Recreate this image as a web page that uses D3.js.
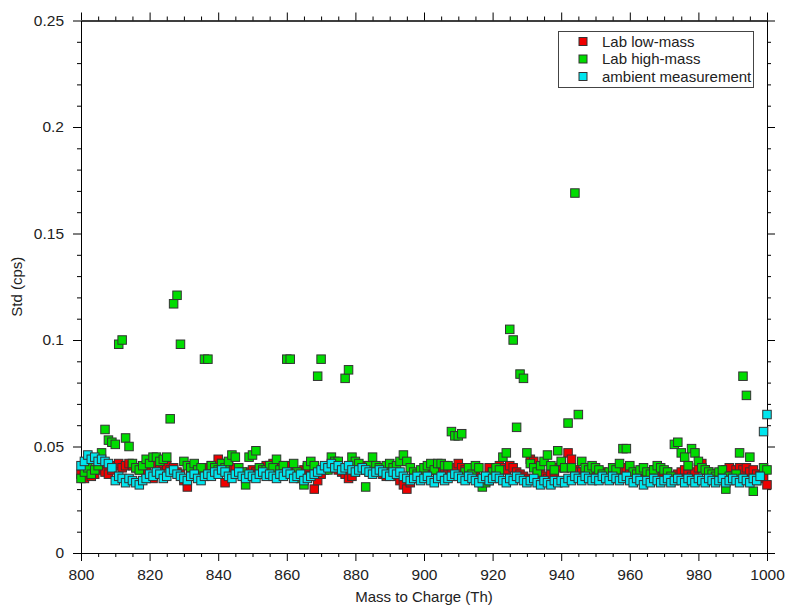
<!DOCTYPE html>
<html>
<head>
<meta charset="utf-8">
<script src="https://cdn.jsdelivr.net/npm/d3@7"></script>
<style>
  html, body { margin: 0; padding: 0; background: #fff; }
  svg { display: block; font-family: "Liberation Sans", Arial, Helvetica, sans-serif; }
</style>
</head>
<body>
<svg id="chart" width="789" height="606"></svg>
<script>
// Mass-to-charge channels, one per integer Th from 800 to 1000
const massToCharge = d3.range(800, 1001);

// Standard deviation (cps) per channel, lab low-mass calibration
const labLowMass = [
  0.037, 0.035, 0.038, 0.036, 0.037, 0.039, 0.040, 0.038, 0.037, 0.039,
  0.041, 0.042, 0.040, 0.041, 0.042, 0.041, 0.040, 0.039, 0.040, 0.038,
  0.036, 0.035, 0.041, 0.040, 0.042, 0.041, 0.039, 0.040, 0.038, 0.037,
  0.034, 0.031, 0.036, 0.038, 0.037, 0.039, 0.038, 0.040, 0.041, 0.039,
  0.044, 0.042, 0.033, 0.041, 0.039, 0.040, 0.038, 0.037, 0.036, 0.038,
  0.039, 0.038, 0.037, 0.039, 0.041, 0.041, 0.042, 0.040, 0.041, 0.039,
  0.040, 0.041, 0.039, 0.038, 0.037, 0.039, 0.040, 0.036, 0.030, 0.034,
  0.037, 0.039, 0.040, 0.041, 0.040, 0.039, 0.038, 0.037, 0.035, 0.036,
  0.038, 0.040, 0.041, 0.039, 0.038, 0.040, 0.039, 0.038, 0.037, 0.036,
  0.038, 0.037, 0.036, 0.034, 0.032, 0.030, 0.033, 0.035, 0.036, 0.037,
  0.038, 0.037, 0.039, 0.040, 0.038, 0.039, 0.040, 0.039, 0.038, 0.040,
  0.042, 0.040, 0.039, 0.037, 0.038, 0.036, 0.035, 0.033, 0.034, 0.040,
  0.038, 0.039, 0.041, 0.040, 0.039, 0.041, 0.040, 0.038, 0.037, 0.036,
  0.035, 0.044, 0.043, 0.039, 0.037, 0.036, 0.035, 0.037, 0.038, 0.040,
  0.041, 0.040, 0.047, 0.044, 0.039, 0.038, 0.038, 0.037, 0.036, 0.035,
  0.036, 0.037, 0.038, 0.037, 0.036, 0.035, 0.037, 0.038, 0.039, 0.040,
  0.039, 0.038, 0.037, 0.036, 0.035, 0.037, 0.038, 0.039, 0.037, 0.036,
  0.037, 0.038, 0.036, 0.035, 0.037, 0.038, 0.039, 0.037, 0.036, 0.038,
  0.040, 0.042, 0.039, 0.038, 0.037, 0.036, 0.037, 0.038, 0.039, 0.040,
  0.036, 0.039, 0.040, 0.039, 0.040, 0.038, 0.039, 0.037, 0.036, 0.035,
  0.032
];

// Standard deviation (cps) per channel, lab high-mass calibration
const labHighMass = [
  0.035, 0.038, 0.040, 0.037, 0.039, 0.041, 0.047, 0.058, 0.053, 0.052,
  0.051, 0.098, 0.100, 0.054, 0.050, 0.042, 0.040, 0.039, 0.041, 0.044,
  0.042, 0.045, 0.045, 0.043, 0.044, 0.045, 0.063, 0.117, 0.121, 0.098,
  0.043, 0.041, 0.040, 0.042, 0.039, 0.040, 0.091, 0.091, 0.041, 0.040,
  0.039, 0.042, 0.040, 0.043, 0.046, 0.045, 0.040, 0.038, 0.032, 0.045,
  0.046, 0.048, 0.040, 0.039, 0.039, 0.041, 0.040, 0.044, 0.039, 0.041,
  0.091, 0.091, 0.042, 0.038, 0.035, 0.032, 0.041, 0.043, 0.041, 0.083,
  0.091, 0.040, 0.039, 0.045, 0.043, 0.043, 0.040, 0.082, 0.086, 0.045,
  0.043, 0.042, 0.040, 0.031, 0.041, 0.045, 0.041, 0.040, 0.039, 0.041,
  0.042, 0.040, 0.041, 0.043, 0.046, 0.043, 0.040, 0.038, 0.037, 0.039,
  0.040, 0.041, 0.042, 0.039, 0.042, 0.042, 0.041, 0.041, 0.057, 0.055,
  0.055, 0.056, 0.038, 0.040, 0.037, 0.041, 0.040, 0.031, 0.033, 0.034,
  0.038, 0.040, 0.039, 0.045, 0.047, 0.105, 0.100, 0.059, 0.084, 0.082,
  0.047, 0.042, 0.040, 0.038, 0.041, 0.043, 0.046, 0.041, 0.039, 0.048,
  0.043, 0.040, 0.061, 0.040, 0.169, 0.065, 0.043, 0.040, 0.039, 0.041,
  0.040, 0.039, 0.037, 0.036, 0.038, 0.040, 0.039, 0.042, 0.049, 0.049,
  0.041, 0.038, 0.037, 0.039, 0.040, 0.038, 0.037, 0.039, 0.041, 0.040,
  0.039, 0.038, 0.036, 0.051, 0.052, 0.047, 0.045, 0.041, 0.049, 0.047,
  0.043, 0.040, 0.039, 0.038, 0.037, 0.036, 0.038, 0.039, 0.030, 0.036,
  0.035, 0.037, 0.047, 0.083, 0.074, 0.045, 0.029, 0.034, 0.036, 0.040,
  0.039
];

// Standard deviation (cps) per channel, ambient measurement
const ambientMeasurement = [
  0.041, 0.043, 0.046, 0.044, 0.045, 0.043, 0.044, 0.043, 0.042, 0.040,
  0.034, 0.036, 0.035, 0.033, 0.035, 0.034, 0.033, 0.032, 0.034, 0.035,
  0.037, 0.036, 0.038, 0.037, 0.035, 0.036, 0.038, 0.039, 0.037, 0.036,
  0.035, 0.034, 0.036, 0.037, 0.035, 0.034, 0.036, 0.037, 0.036, 0.038,
  0.037, 0.039, 0.038, 0.036, 0.035, 0.037, 0.038, 0.036, 0.035, 0.037,
  0.036, 0.035, 0.037, 0.038, 0.036, 0.037, 0.036, 0.035, 0.037, 0.036,
  0.038, 0.037, 0.035, 0.036, 0.037, 0.034, 0.035, 0.036, 0.037, 0.038,
  0.039, 0.041, 0.040, 0.042, 0.040, 0.041, 0.039, 0.040, 0.041, 0.039,
  0.038, 0.039, 0.040, 0.039, 0.038, 0.037, 0.038, 0.039, 0.038, 0.037,
  0.036, 0.038, 0.037, 0.038, 0.036, 0.035, 0.034, 0.035, 0.036, 0.034,
  0.035, 0.036, 0.034, 0.033, 0.035, 0.036, 0.034, 0.035, 0.036, 0.037,
  0.036, 0.035, 0.034, 0.036, 0.035, 0.034, 0.033, 0.035, 0.036, 0.034,
  0.035, 0.036, 0.035, 0.034, 0.033, 0.035, 0.034, 0.036, 0.035, 0.034,
  0.033, 0.034, 0.035, 0.033, 0.032, 0.034, 0.033, 0.032, 0.034, 0.033,
  0.034, 0.033, 0.035, 0.034, 0.036, 0.035, 0.034, 0.036, 0.035, 0.034,
  0.035, 0.034, 0.036, 0.035, 0.034, 0.036, 0.035, 0.034, 0.035, 0.036,
  0.034, 0.033, 0.035, 0.034, 0.032, 0.034, 0.033, 0.035, 0.034, 0.033,
  0.034, 0.035, 0.033, 0.034, 0.035, 0.034, 0.033, 0.035, 0.034, 0.033,
  0.035, 0.034, 0.033, 0.035, 0.034, 0.033, 0.034, 0.035, 0.033, 0.034,
  0.035, 0.034, 0.033, 0.035, 0.034, 0.033, 0.035, 0.034, 0.036, 0.057,
  0.065
];

const seriesNames = ["Lab low-mass", "Lab high-mass", "ambient measurement"];
const seriesValues = [labLowMass, labHighMass, ambientMeasurement];
const seriesColors = ["#f00000", "#00dc00", "#00e5ee"];

const xMajorTicks = [800, 820, 840, 860, 880, 900, 920, 940, 960, 980, 1000];
const yMajorTicks = [0, 0.05, 0.1, 0.15, 0.2, 0.25];
const yTickLabels = ["0", "0.05", "0.1", "0.15", "0.2", "0.25"];

const svg = d3.select("#chart");
const plotLeft = 81, plotRight = 767, plotTop = 20.5, plotBottom = 553;

const x = d3.scaleLinear().domain([800, 1000]).range([plotLeft, plotRight]);
const y = d3.scaleLinear().domain([0, 0.25]).range([plotBottom, plotTop]);

const xMinor = d3.range(800, 1001, 5).filter(v => v % 20 !== 0);
const yMinor = d3.range(0, 0.2501, 0.01).map(v => +v.toFixed(2))
  .filter(v => Math.round(v * 100) % 5 !== 0);

// Frame: all four sides, ticks pointing outward
function styleAxis(g) {
  g.select(".domain").attr("stroke", "#000").attr("stroke-width", 1);
  g.selectAll(".tick line").attr("stroke", "#000").attr("stroke-width", 1);
  g.selectAll(".tick text").attr("fill", "#222").style("font-size", "15.5px");
}

const axes = [
  { gen: d3.axisBottom, scale: x, tr: `translate(0,${plotBottom})`, major: xMajorTicks, minor: xMinor, labels: true, pad: 8, fmt: d => d },
  { gen: d3.axisTop, scale: x, tr: `translate(0,${plotTop})`, major: xMajorTicks, minor: xMinor, labels: false, pad: 3 },
  { gen: d3.axisLeft, scale: y, tr: `translate(${plotLeft},0)`, major: yMajorTicks, minor: yMinor, labels: true, pad: 9, fmt: (d, i) => yTickLabels[i] },
  { gen: d3.axisRight, scale: y, tr: `translate(${plotRight},0)`, major: yMajorTicks, minor: yMinor, labels: false, pad: 3 }
];

axes.forEach(a => {
  svg.append("g").attr("transform", a.tr)
    .call(a.gen(a.scale).tickValues(a.minor).tickSize(4).tickSizeOuter(0).tickFormat(""))
    .call(styleAxis);
  svg.append("g").attr("transform", a.tr)
    .call(a.gen(a.scale).tickValues(a.major).tickSize(8).tickSizeOuter(0).tickPadding(a.pad)
      .tickFormat(a.labels ? a.fmt : ""))
    .call(styleAxis);
});

// Scatter markers, one series drawn over the next
const marker = 8.5;
seriesValues.forEach((vals, si) => {
  svg.append("g")
    .selectAll("rect")
    .data(massToCharge.map((m, i) => ({ m, v: vals[i] })))
    .join("rect")
    .attr("x", d => x(d.m) - marker / 2)
    .attr("y", d => y(d.v) - marker / 2)
    .attr("width", marker)
    .attr("height", marker)
    .attr("fill", seriesColors[si])
    .attr("stroke", "#333")
    .attr("stroke-width", 1);
});

// Axis titles
svg.append("text")
  .attr("x", (plotLeft + plotRight) / 2).attr("y", 602)
  .attr("text-anchor", "middle")
  .style("font-size", "15px").attr("fill", "#222")
  .text("Mass to Charge (Th)");

svg.append("text")
  .attr("transform", `translate(22,${(plotTop + plotBottom) / 2}) rotate(-90)`)
  .attr("text-anchor", "middle")
  .style("font-size", "15px").attr("fill", "#222")
  .text("Std (cps)");

// Legend
const legend = svg.append("g");
legend.append("rect")
  .attr("x", 558.5).attr("y", 31.5).attr("width", 195).attr("height", 56)
  .attr("fill", "#fff").attr("stroke", "#444").attr("stroke-width", 1);

seriesNames.forEach((name, i) => {
  const cy = 41.5 + i * 17.5;
  legend.append("rect")
    .attr("x", 579).attr("y", cy - 4).attr("width", 8).attr("height", 8)
    .attr("fill", seriesColors[i]).attr("stroke", "#333").attr("stroke-width", 1);
  legend.append("text")
    .attr("x", 602).attr("y", cy + 5)
    .style("font-size", "15px").attr("fill", "#222")
    .text(name);
});
</script>
</body>
</html>
